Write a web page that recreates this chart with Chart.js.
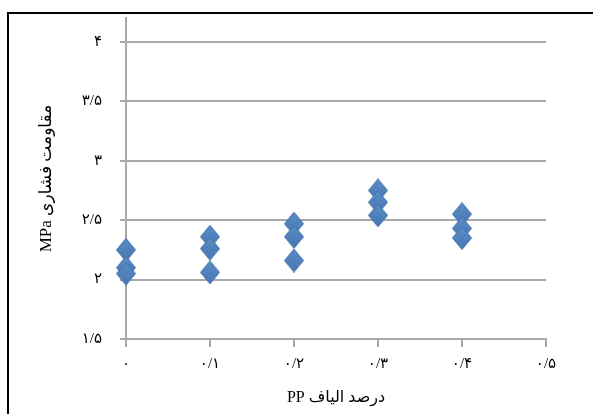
<!DOCTYPE html>
<html>
<head>
<meta charset="utf-8">
<script src="https://cdn.jsdelivr.net/npm/chart.js@4/dist/chart.umd.min.js"></script>
<style>
    body { margin: 0; background: #fff; overflow: hidden; }
    #frame {
        position: absolute; left: 7px; top: 12px; width: 620px; height: 440px;
        border-left: 2px solid #000; border-top: 2px solid #000;
    }
    #myChart { position: absolute; left: 0; top: 0; }
</style>
</head>
<body>
<div id="frame"></div>
<canvas id="myChart" width="593" height="414"></canvas>
<script>
// درصد الیاف PP و مقاومت فشاری (سه نمونه در هر درصد)
const fiberPercent = [0, 0.1, 0.2, 0.3, 0.4];
const sample1 = [2.25, 2.36, 2.47, 2.75, 2.55];
const sample2 = [2.10, 2.26, 2.36, 2.65, 2.43];
const sample3 = [2.05, 2.06, 2.16, 2.54, 2.35];

const xTickLabels = ["۰", "۰/۱", "۰/۲", "۰/۳", "۰/۴", "۰/۵"];
const yTickLabels = ["۱/۵", "۲", "۲/۵", "۳", "۳/۵", "۴"];

const points = [];
[sample1, sample2, sample3].forEach(function (s) {
    s.forEach(function (v, i) {
        points.push({ x: fiberPercent[i], y: v });
    });
});

const gridColor = "#a9a9a9";
const serif = "'Liberation Serif', 'DejaVu Sans', serif";
const tickFont = { family: serif, size: 15 };

// RTL embedding so the Latin unit sits on the left like the original
const rtl = function (s) { return "\u202B" + s + "\u202C"; };

// Excel-like diamond marker (a bit taller than wide)
const marker = document.createElement("canvas");
marker.width = 20;
marker.height = 24;
(function () {
    const m = marker.getContext("2d");
    const g = m.createLinearGradient(0, 0, 0, 24);
    g.addColorStop(0, "#5a8cc6");
    g.addColorStop(1, "#4677b3");
    m.beginPath();
    m.moveTo(10, 0.5);
    m.lineTo(19.5, 12);
    m.lineTo(10, 23.5);
    m.lineTo(0.5, 12);
    m.closePath();
    m.fillStyle = g;
    m.fill();
    m.strokeStyle = "#4474ad";
    m.lineWidth = 1;
    m.stroke();
})();

const ctx = document.getElementById("myChart");

new Chart(ctx, {
    type: "scatter",
    data: {
        datasets: [
            {
                label: "مقاومت فشاری",
                data: points,
                clip: false,
                pointStyle: marker,
                pointRadius: 10,
                pointHoverRadius: 10,
                backgroundColor: "#4F81BD",
                borderColor: "#4474ad",
            },
        ],
    },
    options: {
        responsive: false,
        animation: false,
        layout: { padding: { left: 30, right: 47, top: 18, bottom: 7 } },
        plugins: {
            legend: { display: false },
            tooltip: { enabled: false },
        },
        scales: {
            x: {
                type: "linear",
                min: 0,
                max: 0.5,
                afterFit: function (s) {
                    s.height = 68;
                    s.paddingLeft = 0;
                    s.paddingRight = 0;
                },
                ticks: {
                    stepSize: 0.1,
                    color: "#000",
                    font: tickFont,
                    padding: 8,
                    maxRotation: 0,
                    callback: function (v, i) { return xTickLabels[i]; },
                },
                grid: {
                    drawOnChartArea: false,
                    drawTicks: true,
                    tickLength: 8,
                    color: gridColor,
                    lineWidth: 2,
                },
                border: { color: gridColor, width: 2 },
                title: {
                    display: true,
                    text: rtl("درصد الیاف PP"),
                    color: "#000",
                    font: { family: serif, size: 16 },
                    padding: 0,
                },
            },
            y: {
                type: "linear",
                min: 1.5,
                max: 4.2,
                afterFit: function (s) {
                    s.width = 96;
                    s.paddingTop = 0;
                    s.paddingBottom = 0;
                },
                ticks: {
                    stepSize: 0.5,
                    includeBounds: false,
                    color: "#000",
                    font: tickFont,
                    padding: 18,
                    callback: function (v, i) { return yTickLabels[i]; },
                },
                grid: {
                    drawTicks: true,
                    tickLength: 6,
                    color: gridColor,
                    lineWidth: 2,
                },
                border: { color: gridColor, width: 2 },
                title: {
                    display: true,
                    text: rtl("مقاومت فشاری MPa"),
                    color: "#000",
                    font: { family: serif, size: 17 },
                    padding: { top: 6, bottom: 0 },
                },
            },
        },
    },
});
</script>
</body>
</html>
